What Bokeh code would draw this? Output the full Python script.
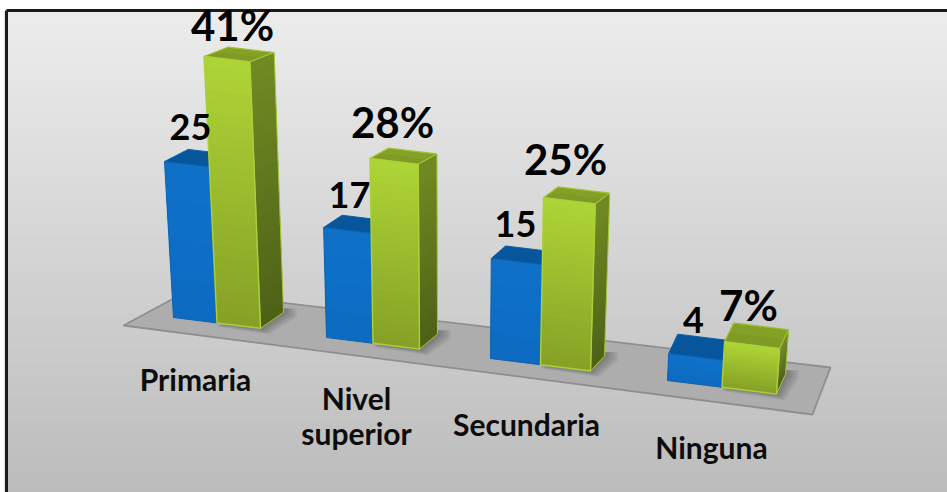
from bokeh.plotting import figure
from bokeh.models import Range1d
from bokeh.core.properties import value
from bokeh.embed import file_html
from bokeh.resources import INLINE

# ---- chart values ----
categories = ["Primaria", "Nivel\nsuperior", "Secundaria", "Ninguna"]
counts = [25, 17, 15, 4]
percents = [41, 28, 25, 7]

# ---- oblique 3D layout (screen space) ----
W, H = 947, 492
base_x = [173, 326, 490, 667]
base_y = [317, 337, 358, 380]
bar_w = [43.5, 46.5, 50, 54.5]
depth = [(23, -16), (18, -15), (14, -15), (9, -20)]
unit_blue = [6.24, 6.47, 6.67, 6.75]
unit_green = [6.5, 6.6, 6.68, 6.5]
lean_x, lean_k = 452, 0.000207
floor_x = [123, 812, 830, 186]
floor_y = [325, 414, 367, 291]
count_lx = [190, 349, 515, 693]
count_ly = [126, 194, 223, 319]
pct_lx = [232, 392, 565, 748]
pct_ly = [24, 121, 158, 304]
cat_lx = [195, 356, 526, 711]
cat_ly = [378, 415, 423, 446]
FONT = "Lato"

p = figure(width=W, height=H, output_backend="svg", toolbar_location=None,
           x_range=Range1d(0, 947), y_range=Range1d(492, 0),
           min_border=0, outline_line_color=None, background_fill_color="white",
           border_fill_color="white")
p.axis.visible = False
p.grid.visible = False


def mix(a, b, t):
    a = [int(a[i:i + 2], 16) for i in (1, 3, 5)]
    b = [int(b[i:i + 2], 16) for i in (1, 3, 5)]
    return "#%02x%02x%02x" % tuple(round(x + (y - x) * t) for x, y in zip(a, b))


def face(pts, c_top, c_bot, n=24, outline=None, lw=1.5):
    """Quad (tl, tr, br, bl) painted as stacked strips for a vertical gradient."""
    tl, tr, br, bl = pts
    xs, ys, cols = [], [], []
    for k in range(n):
        t0, t1 = k / n, min(1, (k + 1.6) / n)
        lx0, ly0 = tl[0] + (bl[0] - tl[0]) * t0, tl[1] + (bl[1] - tl[1]) * t0
        rx0, ry0 = tr[0] + (br[0] - tr[0]) * t0, tr[1] + (br[1] - tr[1]) * t0
        lx1, ly1 = tl[0] + (bl[0] - tl[0]) * t1, tl[1] + (bl[1] - tl[1]) * t1
        rx1, ry1 = tr[0] + (br[0] - tr[0]) * t1, tr[1] + (br[1] - tr[1]) * t1
        xs.append([lx0, rx0, rx1, lx1])
        ys.append([ly0, ry0, ry1, ly1])
        cols.append(mix(c_top, c_bot, k / max(1, n - 1)))
    p.patches(xs, ys, fill_color=cols, line_color=None)
    if outline:
        p.patch([a[0] for a in pts], [a[1] for a in pts], fill_color=None,
                line_color=outline, line_width=lw)


def corner(i, t, d, h):
    """Point of group i: t bar widths along the front, d of the depth, h px up."""
    x = base_x[i] + t * bar_w[i] + d * depth[i][0]
    y = base_y[i] + t * bar_w[i] * 0.125 + d * depth[i][1]
    x_up = x + (x - lean_x) * lean_k * h
    y_up = y - h + d * 0.025 * h
    return (x_up, y_up)


# background
n_bg = 90
bg_cols = [mix("#ececec", "#bcbcbc", k / (n_bg - 1)) for k in range(n_bg)]
top, bottom, left = 10, 492, 6
step = (bottom - top) / n_bg
p.quad(left=[left - 3, left - 2, left - 1], right=left, top=top, bottom=492,
       fill_color="#777777", fill_alpha=0.12, line_color=None)
p.quad(left=left, right=947,
       top=[top + k * step for k in range(n_bg)],
       bottom=[top + (k + 1.5) * step for k in range(n_bg)],
       fill_color=bg_cols, line_color=None)
p.segment(x0=[left, left], y0=[top, top], x1=[947, left], y1=[top, 492],
          line_color="#1a1a1a", line_width=[3, 3])

# floor
p.patch(floor_x, floor_y, fill_color="#adadad", line_color="#8e8e8e", line_width=1.8)

# shadows and bars
for i in range(4):
    a = corner(i, 1.0, 0, 0)
    b = corner(i, 2.0, 0, 0)
    c = corner(i, 2.0, 1, 0)
    for k in range(1, 7):
        p.patch([a[0], b[0] + k * 1.4, c[0] + k * 2.2, c[0] + k * 2.2, c[0]],
                [a[1] + k * 0.6, b[1] + k * 1.0, c[1] + k * 0.8, c[1] - 4, c[1] - 4],
                fill_color="#303030", fill_alpha=0.07, line_color=None)

    # blue bar
    h = counts[i] * unit_blue[i]
    face([corner(i, 0, 1, h), corner(i, 1, 1, h), corner(i, 1, 0, h), corner(i, 0, 0, h)],
         "#07569c", "#07569c", n=1, outline="#0a5fa8", lw=1)
    face([corner(i, 0, 0, h), corner(i, 1, 0, h), corner(i, 1, 0, 0), corner(i, 0, 0, 0)],
         "#0f70c8", "#0d6cc2", n=4, outline="#0b62b0", lw=1)

    # green bar
    h = percents[i] * unit_green[i]
    face([corner(i, 1, 1, h), corner(i, 2, 1, h), corner(i, 2, 0, h), corner(i, 1, 0, h)],
         "#84a127", "#7f9b25", n=2, outline="#9fc234", lw=1.2)
    face([corner(i, 2, 0, h), corner(i, 2, 1, h), corner(i, 2, 1, 0), corner(i, 2, 0, 0)],
         "#708a23", "#4e6217", outline="#a3c837", lw=1)
    face([corner(i, 1, 0, h), corner(i, 2, 0, h), corner(i, 2, 0, 0), corner(i, 1, 0, 0)],
         "#add436", "#87a126", outline="#abd03a", lw=1.4)

# texts
p.text(count_lx, count_ly, text=[str(v) for v in counts], text_font=value(FONT),
       text_font_style="bold", text_font_size="36px", text_color="black",
       text_align="center", text_baseline="middle")
p.text(pct_lx, pct_ly, text=[f"{v}%" for v in percents], text_font=value(FONT),
       text_font_style="bold", text_font_size="42px", text_color="black",
       text_align="center", text_baseline="middle")
p.text(cat_lx, cat_ly, text=categories, text_font=value(FONT),
       text_font_style="bold", text_font_size="30px", text_color="#0d0d0d",
       text_align="center", text_baseline="middle", text_line_height=0.95)

open("out.html", "w").write(file_html(p, INLINE))
